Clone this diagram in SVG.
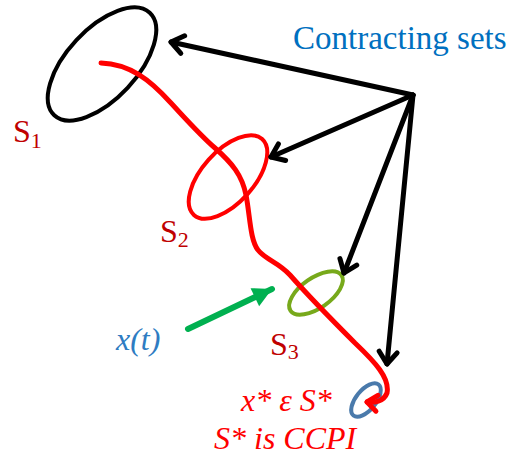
<svg xmlns="http://www.w3.org/2000/svg" width="523" height="455" viewBox="0 0 523 455">
<defs>
<style>
.set{fill:none;stroke-width:4}
.lbl{font-family:"Liberation Serif","Tinos","Times New Roman","DejaVu Serif",serif;font-size:32px;fill:#c00000}
.sub{font-size:22px}
.it{font-family:"Liberation Serif","Tinos","Times New Roman","DejaVu Serif",serif;font-size:32px;font-style:italic}
.ttl{font-family:"Liberation Serif","Tinos","Times New Roman","DejaVu Serif",serif;font-size:33px;fill:#0070c0}
.blk{fill:none;stroke:#000;stroke-width:5;stroke-linecap:round;marker-end:url(#chev)}
</style>
<marker id="chev" viewBox="-16 -14 20 28" markerWidth="20" markerHeight="28" refX="0" refY="0" orient="auto" markerUnits="userSpaceOnUse">
<path d="M-12,-9 L0,0 L-12,9" fill="none" stroke="#000" stroke-width="5" stroke-linecap="round" stroke-linejoin="round"/>
</marker>
<marker id="rchev" viewBox="-16 -14 20 28" markerWidth="20" markerHeight="28" refX="0" refY="0" orient="auto" markerUnits="userSpaceOnUse">
<path d="M-10,-8 L0,0 L-10,8" fill="none" stroke="#ff0000" stroke-width="5" stroke-linecap="round" stroke-linejoin="round"/>
</marker>
<marker id="gtri" viewBox="-20 -12 22 24" markerWidth="22" markerHeight="24" refX="0" refY="0" orient="auto" markerUnits="userSpaceOnUse">
<path d="M-19,-10 L0,0 L-19,10 Z" fill="#00b050"/>
</marker>
</defs>
<rect width="523" height="455" fill="#fff"/>
<g id="S1">
<ellipse class="set" cx="102" cy="64" rx="70" ry="35" transform="rotate(-47 102 64)" stroke="#000"/>
<text class="lbl" x="13" y="142">S<tspan class="sub" dy="6">1</tspan></text>
</g>
<g id="S2">
<ellipse class="set" cx="228" cy="177" rx="51" ry="26" transform="rotate(-48 228 177)" stroke="#ff0000"/>
<text class="lbl" x="160" y="242">S<tspan class="sub" dy="5">2</tspan></text>
</g>
<g id="S3">
<ellipse class="set" cx="316" cy="293" rx="31" ry="15" transform="rotate(-35 316 293)" stroke="#77a91b"/>
<text class="lbl" x="270" y="355">S<tspan class="sub" dy="4">3</tspan></text>
</g>
<g id="Sstar">
<ellipse class="set" cx="366" cy="400" rx="20" ry="10" transform="rotate(-51 366 400)" stroke="#4a7aab"/>
<text class="it" x="241" y="411" fill="#ff0000">x* ε S*</text>
<text class="it" x="214" y="449" fill="#ff0000">S* is CCPI</text>
</g>
<g id="title">
<text class="ttl" x="293" y="49">Contracting sets</text>
</g>
<g id="xt">
<text class="it" x="116" y="350" fill="#2e7cc2">x(t)</text>
</g>
<g id="connectors">
<path d="M101,63 C130,64 150,80 170,102 C185,118 200,135 215,148 C232,163 242,175 246,195 C250,215 250,240 258,250 C266,260 278,262 290,275 C305,292 330,318 355,343 C375,362 390,378 387,393 C384,401 375,403 367,402" fill="none" stroke="#ff0000" stroke-width="5" stroke-linecap="round" marker-end="url(#rchev)"/>
<line class="blk" x1="413" y1="95" x2="171" y2="42"/>
<line class="blk" x1="413" y1="95" x2="271" y2="157"/>
<line class="blk" x1="413" y1="95" x2="344" y2="273"/>
<line class="blk" x1="413" y1="95" x2="387" y2="364"/>
<line x1="188" y1="329" x2="272" y2="289" stroke="#00b050" stroke-width="6" stroke-linecap="round" marker-end="url(#gtri)"/>
</g>
</svg>
